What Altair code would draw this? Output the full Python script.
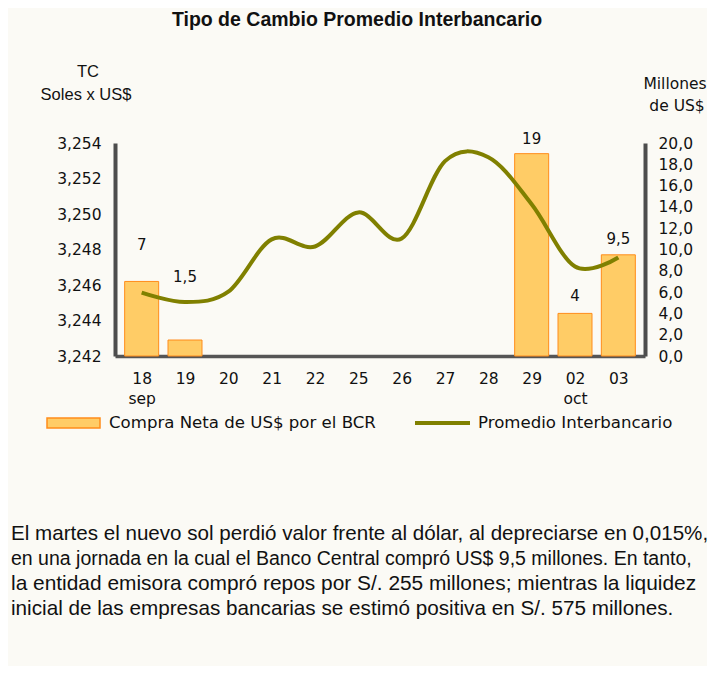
import json
import altair as alt
import pandas as pd

# ---- data ----
categories = ["18", "19", "20", "21", "22", "25", "26", "27", "28", "29", "02", "03"]
months = ["sep", "", "", "", "", "", "", "", "", "", "oct", ""]
tc_promedio = [3.24557, 3.24504, 3.24562, 3.24857, 3.24817, 3.25009,
               3.24862, 3.25298, 3.25320, 3.25055, 3.24704, 3.24755]
compra_neta = [7, 1.5, 0, 0, 0, 0, 0, 0, 0, 19, 4, 9.5]
compra_text = ["7", "1,5", "", "", "", "", "", "", "", "19", "4", "9,5"]
label_level = [10.4, 7.4, 0, 0, 0, 0, 0, 0, 0, 20.4, 5.6, 11.0]

title_text = "Tipo de Cambio Promedio Interbancario"
left_title = ["TC", "Soles x US$"]
right_title = ["Millones", "de US$"]
legend_bar = "Compra Neta de US$ por el BCR"
legend_line = "Promedio Interbancario"
paragraph = [
    "El martes el nuevo sol perdió valor frente al dólar, al depreciarse en 0,015%,",
    "en una jornada en la cual el Banco Central compró US$ 9,5 millones.  En tanto,",
    "la entidad emisora compró repos por S/. 255  millones; mientras  la liquidez",
    "inicial de las empresas bancarias se estimó positiva en S/. 575 millones.",
]

idx = list(range(len(categories)))
df_line = pd.DataFrame({"i": idx, "tc": tc_promedio})
df_bar = pd.DataFrame({"i": idx, "v": compra_neta, "t": compra_text, "ly": label_level})
df_bar = df_bar[df_bar["v"] > 0]
one = pd.DataFrame({"k": [0]})

BG = "#FBFAF5"
AXC = "#4d4d4d"
TICKFONT = "DejaVu Sans"
TEXTFONT = "Liberation Sans Narrow, Liberation Sans, sans-serif"

label_arrays = [[c, m] if m else c for c, m in zip(categories, months)]
x_label_expr = json.dumps(label_arrays).replace('"', "'") + "[datum.value]"

x_enc = alt.X(
    "i:Q",
    scale=alt.Scale(domain=[-0.5, 11.5], nice=False, zero=False),
    axis=alt.Axis(
        values=idx, labelExpr=x_label_expr, title=None, grid=False,
        ticks=False, tickSize=0, domainColor="#555555", domainWidth=3.5,
        labelFont=TICKFONT, labelFontSize=15.5, labelColor="#111111",
        labelPadding=15, labelLineHeight=20, labelBaseline="top",
    ),
)

bars = alt.Chart(df_bar).mark_bar(
    size=34, color="#FFCC66", stroke="#FF8C1A", strokeWidth=1
).encode(
    x=x_enc,
    y=alt.Y(
        "v:Q",
        scale=alt.Scale(domain=[0, 20], nice=False),
        axis=alt.Axis(
            orient="right", values=list(range(0, 21, 2)),
            labelExpr="replace(format(datum.value, '.1f'), '.', ',')",
            title=None, grid=False, ticks=False, tickSize=0,
            domainColor=AXC, domainWidth=4, labelFont=TICKFONT,
            labelFontSize=15.5, labelColor="#111111", labelPadding=13,
        ),
    ),
)

bar_labels = alt.Chart(df_bar).mark_text(
    font=TICKFONT, fontSize=15, color="#111111", baseline="middle"
).encode(
    x=x_enc,
    y=alt.Y("ly:Q", scale=alt.Scale(domain=[0, 20], nice=False), axis=None),
    text="t:N",
)

line = alt.Chart(df_line).mark_line(
    color="#808000", strokeWidth=4, interpolate="cardinal", tension=0
).encode(
    x=x_enc,
    y=alt.Y(
        "tc:Q",
        scale=alt.Scale(domain=[3.242, 3.254], nice=False, zero=False),
        axis=alt.Axis(
            orient="left", values=[3.242, 3.244, 3.246, 3.248, 3.250, 3.252, 3.254],
            labelExpr="replace(format(datum.value, '.3f'), '.', ',')",
            title=None, grid=False, ticks=False, tickSize=0,
            domainColor=AXC, domainWidth=4, labelFont=TICKFONT,
            labelFontSize=15.5, labelColor="#111111", labelPadding=14,
        ),
    ),
)


def txt(s, x, y, size=15, font=TICKFONT, align="center", weight="normal",
        baseline="middle", color="#111111"):
    return alt.Chart(one).mark_text(
        text=s, font=font, fontSize=size, align=align, baseline=baseline,
        fontWeight=weight, color=color,
    ).encode(x=alt.value(x), y=alt.value(y))


annotations = [
    txt(title_text, 242, -123, size=19.5, font=TEXTFONT, weight="bold"),
    txt(left_title[0], -27, -71, size=16.5, font=TEXTFONT),
    txt(left_title[1], -29, -48, size=16.5, font=TEXTFONT),
    txt(right_title[0], 560, -59, size=15.5),
    txt(right_title[1], 562, -37, size=15.5),
    txt(legend_bar, -6, 280, size=16.6, align="left"),
    txt(legend_line, 363, 280, size=16.6, align="left"),
]
para_sizes = [20.6, 19.5, 20.9, 20.7]
for k, s in enumerate(paragraph):
    annotations.append(txt(s, -104, 396.5 + 25.3 * k, size=para_sizes[k],
                           font=TEXTFONT, align="left", baseline="alphabetic"))

legend_rect = alt.Chart(one).mark_rect(
    color="#FFCC66", stroke="#FF8C1A", strokeWidth=1.5
).encode(x=alt.value(-68), x2=alt.value(-15), y=alt.value(275), y2=alt.value(285))

legend_rule = alt.Chart(one).mark_rule(color="#808000", strokeWidth=4).encode(
    x=alt.value(300), x2=alt.value(355), y=alt.value(280)
)

chart = alt.layer(
    bars, bar_labels, line, legend_rect, legend_rule, *annotations
).resolve_scale(y="independent").properties(
    width=530, height=213,
    autosize=alt.AutoSizeParams(type="none"),
    padding={"left": 107, "top": 135, "right": 62, "bottom": 310},
    background=BG,
).configure_view(stroke=None)

chart.save("out.html", embed_options={"renderer": "svg", "actions": False})
